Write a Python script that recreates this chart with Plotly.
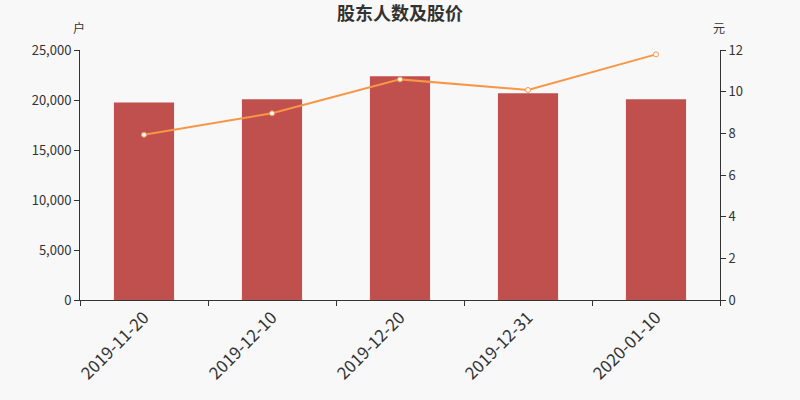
import plotly.graph_objects as go

dates = ["2019-11-20", "2019-12-10", "2019-12-20", "2019-12-31", "2020-01-10"]
holders = [19750, 20070, 22370, 20670, 20070]
price = [7.93, 8.96, 10.59, 10.08, 11.79]

font = "Noto Sans CJK SC"
fig = go.Figure()
fig.add_trace(go.Bar(x=dates, y=holders, marker_color="#c0504d", marker_line_width=0,
                     width=0.47, name="股东人数"))
fig.add_trace(go.Scatter(x=dates, y=price, yaxis="y2", mode="lines+markers",
                         line=dict(color="#f79646", width=2),
                         marker=dict(size=5, color="white", line=dict(color="#f79646", width=1)),
                         name="股价"))
fig.update_layout(
    width=800, height=400,
    paper_bgcolor="#f8f8f8", plot_bgcolor="#f8f8f8",
    margin=dict(l=80, r=80, t=50, b=100, autoexpand=False),
    showlegend=False,
    font=dict(family=font, color="#333"),
    title=dict(text="<b>股东人数及股价</b>", x=0.5, xanchor="center", y=0.965, yanchor="middle",
               font=dict(size=18, color="#333")),
    xaxis=dict(type="category", tickangle=-45, tickson="boundaries", ticks="outside", ticklen=5,
               showline=True, linecolor="#333", linewidth=1, tickcolor="#333",
               tickfont=dict(size=17, color="#333"), showgrid=False, automargin=False),
    yaxis=dict(range=[0, 25000], dtick=5000, tickformat=",d", showgrid=False, zeroline=False,
               showline=True, linecolor="#333", ticks="outside", ticklen=5, tickcolor="#333",
               tickfont=dict(size=13, color="#333"), automargin=False),
    yaxis2=dict(range=[0, 12], dtick=2, overlaying="y", side="right", showgrid=False, zeroline=False,
                showline=True, linecolor="#333", ticks="outside", ticklen=5, tickcolor="#333",
                tickfont=dict(size=13, color="#333"), automargin=False),
)
fig.add_annotation(text="户", xref="paper", yref="paper", x=-0.0016, y=1.088, xanchor="center",
                   yanchor="middle", showarrow=False, font=dict(size=12, color="#333"))
fig.add_annotation(text="元", xref="paper", yref="paper", x=0.9984, y=1.088, xanchor="center",
                   yanchor="middle", showarrow=False, font=dict(size=12, color="#333"))
fig.write_html("out.html", config={"displayModeBar": False},
               post_script="document.body.style.margin='0';")
